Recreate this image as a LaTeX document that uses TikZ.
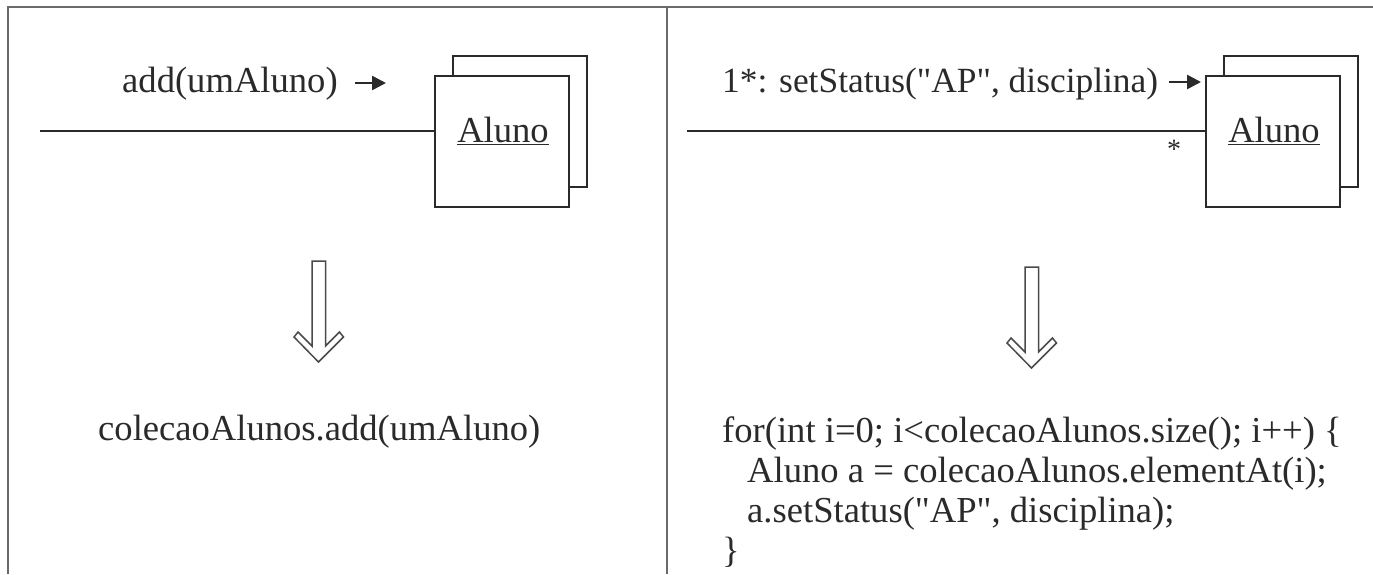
\documentclass[tikz,border=0pt]{standalone}
\usepackage{fontspec}
\setmainfont{Liberation Serif}
\usetikzlibrary{arrows.meta,calc}

\definecolor{framegray}{HTML}{6A6A6A}
\definecolor{ink}{HTML}{2A2A2A}

\newcommand{\dq}{\textquotedbl}

\tikzset{
  txt/.style={inner sep=0pt, text=ink, font=\fontsize{36.6}{40}\selectfont},
  objbox/.style={draw=ink, line width=1.6pt, minimum width=134pt, minimum height=131pt, inner sep=0pt, fill=white},
  backbox/.style={draw=ink, line width=1.6pt},
  link/.style={draw=ink, line width=1.8pt},
  msgarrow/.style={draw=ink, line width=2.6pt, -{Triangle[length=14pt, width=14pt]}},
  frame/.style={draw=framegray, line width=2.6pt},
  flowarrow/.style={draw=ink!85, line width=1.5pt, line join=miter},
}

% hollow downward arrow with shaft centre x=#1 and top y=#2
\newcommand{\hollowdown}[3]{%
  \draw[flowarrow] (#1-6.5,#2) coordinate (#3-top)
    -- ++(0,85) -- ++(-14,-14) -- ++(-4,5) -- (#1,#2+101) coordinate (#3-tip)
    -- ++(25,-25) -- ++(-4,-5) -- ++(-14,14) -- ++(0,-85) -- cycle;}

\begin{document}
\begin{tikzpicture}[x=1pt, y=-1pt]
\useasboundingbox (0,0) rectangle (1373,574);

% outer frame and panel divider
\coordinate (fBL) at (8,574);
\coordinate (fTL) at (8,7);
\coordinate (fTR) at (1373,7);
\coordinate (dTop) at (667,7);
\coordinate (dBot) at (667,574);
\draw[frame] (fBL) -- (fTL) -- (fTR);
\draw[frame] (dTop) -- (dBot);

% ---------- left panel: single object ----------
\node[objbox] (boxL) at (502,141.5) {};
\draw[backbox] ($(boxL.north west)+(19,0)$) -- ++(0,-19) -- ++(134,0) -- ++(0,131) -- ++(-19,0);
\node[txt, anchor=base] (nameL) at (503,142) {\underline{Aluno}};

\coordinate (startL) at (40,131);
\draw[link] (startL) -- (startL -| boxL.west);

\node[txt, anchor=base west] (msgL) at (122,92) {add(umAluno)};
\coordinate (mLa) at (355,83);
\coordinate (mLb) at (386,83);
\draw[msgarrow] (mLa) -- (mLb);

\hollowdown{318.5}{261}{flowL}
\node[txt, anchor=base west] (codeL) at (98,440) {colecaoAlunos.add(umAluno)};

% ---------- right panel: multiobject ----------
\node[objbox] (boxR) at (1273,141.5) {};
\draw[backbox] ($(boxR.north west)+(19,0)$) -- ++(0,-19) -- ++(134,0) -- ++(0,131) -- ++(-19,0);
\node[txt, anchor=base] (nameR) at (1274,142) {\underline{Aluno}};

\coordinate (startR) at (687,131);
\draw[link] (startR) -- (startR -| boxR.west);
\node[txt, anchor=base, font=\fontsize{28}{30}\selectfont] (multR) at (1174,158) {*};

\node[txt, anchor=base west, font=\fontsize{35.4}{40}\selectfont] (msgR) at (722,92) {1*: setStatus(\dq AP\dq, disciplina)};
\coordinate (mRa) at (1169,82);
\coordinate (mRb) at (1201,82);
\draw[msgarrow] (mRa) -- (mRb);

\hollowdown{1031.5}{267}{flowR}
\node[txt, anchor=base west] (codeR1) at (722,442) {for(int i=0; i<colecaoAlunos.size(); i++) \{};
\node[txt, anchor=base west] (codeR2) at (747,482) {Aluno a = colecaoAlunos.elementAt(i);};
\node[txt, anchor=base west] (codeR3) at (747,522) {a.setStatus(\dq AP\dq, disciplina);};
\node[txt, anchor=base west] (codeR4) at (722,562) {\}};
\end{tikzpicture}
\end{document}
